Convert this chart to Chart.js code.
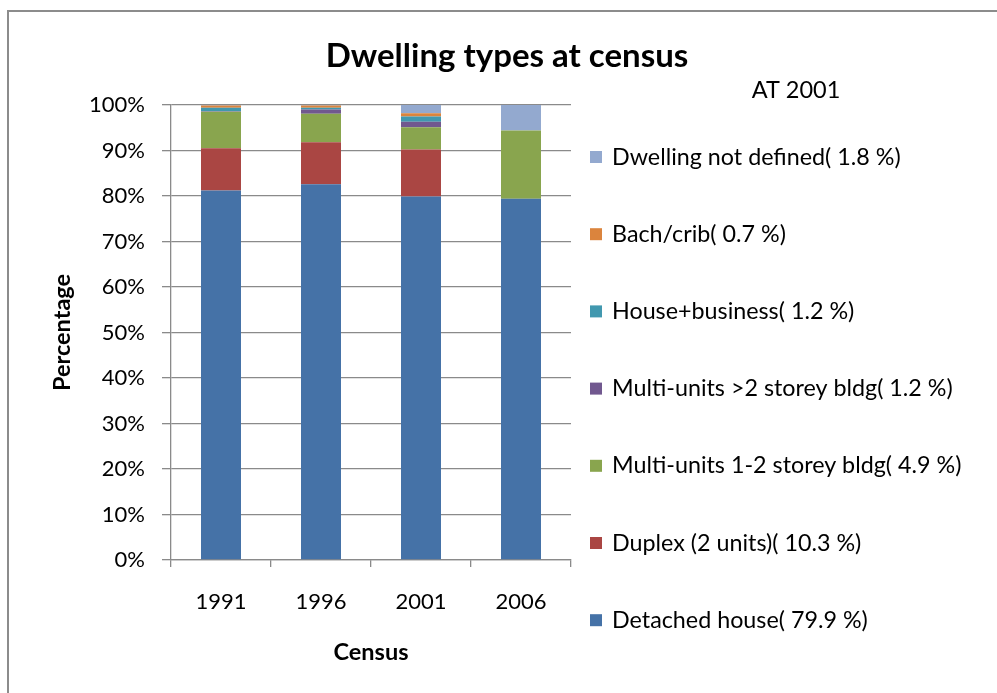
<!DOCTYPE html>
<html>
<head>
<meta charset="utf-8">
<title>Dwelling types at census</title>
<script src="https://cdn.jsdelivr.net/npm/chart.js@4"></script>
<style>
  html, body { margin: 0; padding: 0; background: #ffffff; }
  #wrap { width: 997px; height: 693px; position: relative; }
</style>
</head>
<body>
<div id="wrap"><canvas id="chart" width="997" height="693"></canvas></div>
<script>
// Census years on the x axis
const censusYears = ['1991', '1996', '2001', '2006'];

// Share of dwellings by type (%), one value per census year
const detachedHouse   = [81.2, 82.6, 79.9, 79.4];
const duplex          = [9.3, 9.2, 10.3, 0];
const multiUnitsLow   = [8.0, 6.3, 4.9, 15.0];
const multiUnitsHigh  = [0.1, 0.9, 1.2, 0];
const houseBusiness   = [0.8, 0.4, 1.2, 0];
const bachCrib        = [0.5, 0.5, 0.7, 0];
const notDefined      = [0.1, 0.1, 1.8, 5.6];

// Series names (bottom of the stack first)
const seriesNames = [
  'Detached house',
  'Duplex (2 units)',
  'Multi-units 1-2 storey bldg',
  'Multi-units >2 storey bldg',
  'House+business',
  'Bach/crib',
  'Dwelling not defined'
];
const seriesValues = [detachedHouse, duplex, multiUnitsLow, multiUnitsHigh, houseBusiness, bachCrib, notDefined];
const seriesColors = ['#4572A7', '#AA4643', '#89A54E', '#71588F', '#4198AF', '#DB843D', '#93A9CF'];

// Y axis ticks
const yTickValues = [0, 10, 20, 30, 40, 50, 60, 70, 80, 90, 100];

// Year whose values are quoted in the legend
const legendYear = '2001';

const FONT = 'Lato, "Open Sans", "DejaVu Sans", sans-serif';
const GRID = '#8a8a8a';

const yearIndex = censusYears.indexOf(legendYear);

const datasets = seriesNames.map((name, i) => ({
  label: name + '( ' + seriesValues[i][yearIndex].toFixed(1) + ' %)',
  data: seriesValues[i],
  backgroundColor: seriesColors[i],
  borderWidth: 0,
  categoryPercentage: 1.0,
  barPercentage: 0.4
}));

// Outer frame, title, "AT 2001" heading and the legend column
const decorations = {
  id: 'decorations',
  beforeDraw(chart) {
    const ctx = chart.ctx;
    ctx.save();
    ctx.fillStyle = '#ffffff';
    ctx.fillRect(0, 0, chart.width, chart.height);
    ctx.strokeStyle = '#8c8c8c';
    ctx.lineWidth = 2;
    ctx.strokeRect(8, 11, chart.width + 20, chart.height + 20);
    ctx.restore();
  },
  afterDraw(chart) {
    const ctx = chart.ctx;
    ctx.save();
    ctx.fillStyle = '#000000';
    ctx.textBaseline = 'middle';
    ctx.textAlign = 'center';
    ctx.font = 'bold 33px ' + FONT;
    ctx.fillText('Dwelling types at census', 507, 56);
    ctx.font = '23.5px ' + FONT;
    ctx.fillText('AT ' + legendYear, 796, 90);

    // legend: last series at top
    const items = chart.data.datasets.slice().reverse();
    const top = 157, step = 77.2;
    ctx.textAlign = 'left';
    ctx.font = '23.3px ' + FONT;
    items.forEach((ds, k) => {
      const y = top + k * step;
      ctx.fillStyle = ds.backgroundColor;
      ctx.fillRect(590, y - 6, 12, 12);
      ctx.fillStyle = '#000000';
      ctx.fillText(ds.label, 612, y);
    });
    ctx.restore();
  }
};

new Chart(document.getElementById('chart'), {
  type: 'bar',
  data: { labels: censusYears, datasets },
  options: {
    responsive: false,
    animation: false,
    layout: { padding: { left: 44, right: 426, top: 105, bottom: 22 } },
    plugins: {
      legend: { display: false },
      title: { display: false },
      tooltip: { enabled: false }
    },
    scales: {
      x: {
        stacked: true,
        grid: {
          offset: true,
          drawOnChartArea: false,
          drawTicks: true,
          tickLength: 7,
          color: GRID,
          lineWidth: 1.3
        },
        border: { color: GRID, width: 1.3 },
        ticks: { color: '#000000', font: { family: FONT, size: 22 }, padding: 22 },
        title: {
          display: true,
          text: 'Census',
          color: '#000000',
          font: { family: FONT, size: 23.5, weight: 'bold' }
        },
        afterFit(scale) { scale.height = 111; }
      },
      y: {
        stacked: true,
        min: 0,
        max: 100,
        afterBuildTicks(scale) { scale.ticks = yTickValues.map(v => ({ value: v })); },
        grid: {
          color: GRID,
          lineWidth: 1.3,
          drawTicks: true,
          tickLength: 9
        },
        border: { color: GRID, width: 1.3 },
        ticks: {
          color: '#000000',
          font: { family: FONT, size: 22 },
          padding: 17,
          callback: v => v + '%'
        },
        title: {
          display: true,
          text: 'Percentage',
          color: '#000000',
          font: { family: FONT, size: 23.5, weight: 'bold' }
        },
        afterFit(scale) { scale.width = 127; }
      }
    }
  },
  plugins: [decorations]
});
</script>
</body>
</html>
